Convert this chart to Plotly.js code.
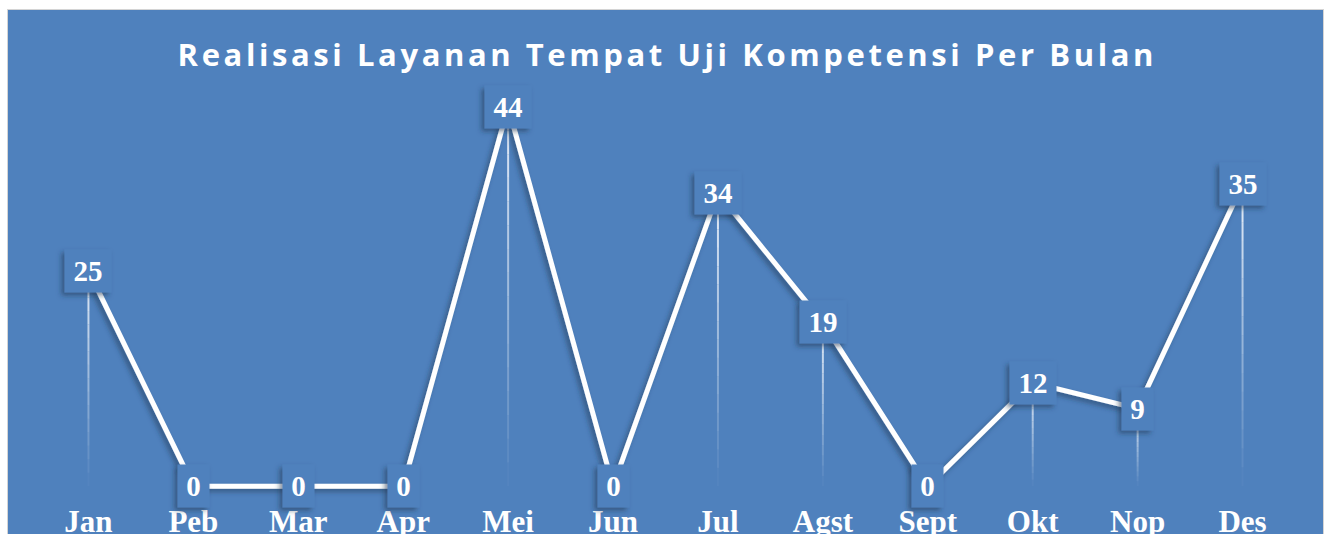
<!DOCTYPE html>
<html>
<head>
<meta charset="utf-8">
<script src="https://cdn.plot.ly/plotly-3.0.1.min.js"></script>
<style>
  html, body { margin: 0; padding: 0; background: #ffffff; overflow: hidden; width: 1330px; height: 534px; }
  #chart { position: absolute; left: 7px; top: 9px; width: 1315px; height: 560px; border: 1px solid #d4d4d4; }
</style>
</head>
<body>
<div id="chart"></div>
<script>
// ---- data ----
const months = ['Jan', 'Peb', 'Mar', 'Apr', 'Mei', 'Jun', 'Jul', 'Agst', 'Sept', 'Okt', 'Nop', 'Des'];
const values = [25, 0, 0, 0, 44, 0, 34, 19, 0, 12, 9, 35];
const chartTitle = 'Realisasi Layanan Tempat Uji Kompetensi Per Bulan';

// ---- style ----
const BG = '#4f81bd';
const serif = '"Liberation Serif", "Times New Roman", serif';

// drop lines with fading gradient (built from the data)
const shapes = [];
const N = 16;
months.forEach((m, i) => {
  const v = values[i];
  if (v <= 0) return;
  for (let k = 0; k < N; k++) {
    const y0 = v * (1 - k / N);
    const y1 = v * (1 - (k + 1) / N);
    const a = 0.95 * (1 - (k + 0.5) / N);
    shapes.push({
      type: 'line', xref: 'x', yref: 'y', layer: 'below',
      x0: m, x1: m, y0: y0, y1: y1,
      line: { color: 'rgba(240,245,252,' + a.toFixed(3) + ')', width: 2 }
    });
  }
});

const annotations = months.map((m, i) => ({
  x: m, y: values[i], xref: 'x', yref: 'y',
  text: String(values[i]),
  showarrow: false,
  xanchor: 'center', yanchor: 'middle',
  bgcolor: BG,
  borderpad: 0,
  width: String(values[i]).length * 15 + 16,
  height: 42,
  font: { family: serif, size: 29, color: '#ffffff', weight: 'bold' }
}));

const trace = {
  x: months, y: values,
  type: 'scatter', mode: 'lines',
  line: { color: '#ffffff', width: 5 },
  hoverinfo: 'skip'
};

const layout = {
  width: 1315, height: 560,
  paper_bgcolor: BG, plot_bgcolor: BG,
  margin: { l: 27.5, r: 27.5, t: 45.3, b: 70.2 },
  showlegend: false,
  title: {
    text: chartTitle,
    x: 0.5, xanchor: 'center',
    y: 1 - 45 / 560, yref: 'container', yanchor: 'middle',
    font: { family: '"Open Sans", Lato, sans-serif', size: 31, color: '#ffffff', weight: 'bold' }
  },
  xaxis: {
    type: 'category', range: [-0.5, 11.5],
    showgrid: false, zeroline: false, showline: false, ticks: '',
    tickfont: { family: serif, size: 31, color: '#ffffff', weight: 'bold' },
    fixedrange: true
  },
  yaxis: {
    range: [-1.6, 50], visible: false, fixedrange: true
  },
  shapes: shapes,
  annotations: annotations
};

Plotly.newPlot('chart', [trace], layout, { displayModeBar: false, staticPlot: true }).then(gd => {
  // letter spacing on title to match the wide tracking
  const t = gd.querySelector('.gtitle');
  if (t) {
    const w = t.getComputedTextLength();
    const target = 976;
    const n = chartTitle.length - 1;
    const ls = Math.max(0, (target - w) / n);
    t.style.letterSpacing = ls.toFixed(2) + 'px';
    t.setAttribute('x', String(parseFloat(t.getAttribute('x')) + ls / 2));
  }
  // drop shadow filter
  const svg = gd.querySelector('svg.main-svg');
  const ns = 'http://www.w3.org/2000/svg';
  let defs = svg.querySelector('defs');
  if (!defs) { defs = document.createElementNS(ns, 'defs'); svg.insertBefore(defs, svg.firstChild); }
  const f = document.createElementNS(ns, 'filter');
  f.setAttribute('id', 'softshadow');
  f.setAttribute('filterUnits', 'userSpaceOnUse');
  f.setAttribute('x', '-500'); f.setAttribute('y', '-500');
  f.setAttribute('width', '3000'); f.setAttribute('height', '2000');
  const ds = document.createElementNS(ns, 'feDropShadow');
  ds.setAttribute('dx', '-3'); ds.setAttribute('dy', '3');
  ds.setAttribute('stdDeviation', '2.5');
  ds.setAttribute('flood-color', '#1f3550');
  ds.setAttribute('flood-opacity', '0.55');
  f.appendChild(ds);
  defs.appendChild(f);
  gd.querySelectorAll('.scatterlayer .js-line').forEach(p => p.setAttribute('filter', 'url(#softshadow)'));
  gd.querySelectorAll('.annotation rect.bg').forEach(r => r.setAttribute('filter', 'url(#softshadow)'));
});
</script>
</body>
</html>
